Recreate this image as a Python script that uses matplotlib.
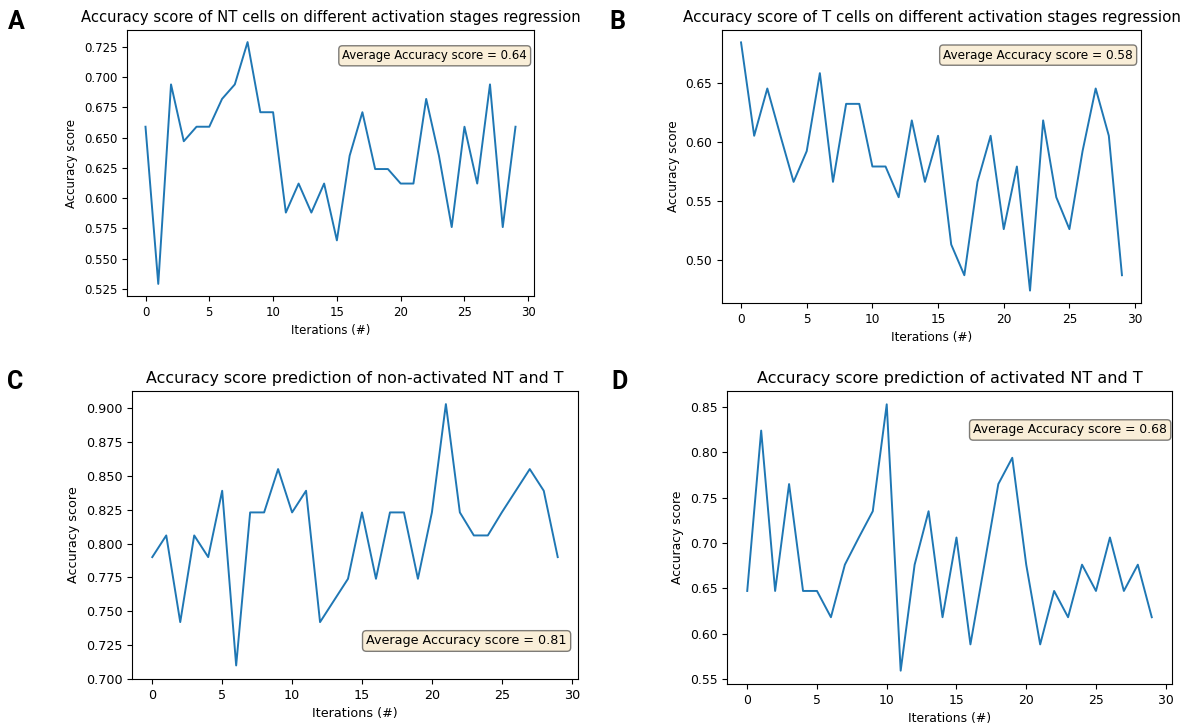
import matplotlib
matplotlib.use('Agg')
import numpy as np
import matplotlib.pyplot as plt
from matplotlib.ticker import MultipleLocator

# accuracy per iteration
acc_nt = [0.659, 0.529, 0.694, 0.647, 0.659, 0.659, 0.682, 0.694, 0.729, 0.671,
          0.671, 0.588, 0.612, 0.588, 0.612, 0.565, 0.635, 0.671, 0.624, 0.624,
          0.612, 0.612, 0.682, 0.635, 0.576, 0.659, 0.612, 0.694, 0.576, 0.659]
acc_t = [0.684, 0.605, 0.645, 0.605, 0.566, 0.592, 0.658, 0.566, 0.632, 0.632,
         0.579, 0.579, 0.553, 0.618, 0.566, 0.605, 0.513, 0.487, 0.566, 0.605,
         0.526, 0.579, 0.474, 0.618, 0.553, 0.526, 0.592, 0.645, 0.605, 0.487]
acc_nonact = [0.790, 0.806, 0.742, 0.806, 0.790, 0.839, 0.710, 0.823, 0.823, 0.855,
              0.823, 0.839, 0.742, 0.758, 0.774, 0.823, 0.774, 0.823, 0.823, 0.774,
              0.823, 0.903, 0.823, 0.806, 0.806, 0.823, 0.839, 0.855, 0.839, 0.790]
acc_act = [0.647, 0.824, 0.647, 0.765, 0.647, 0.647, 0.618, 0.676, 0.706, 0.735,
           0.853, 0.559, 0.676, 0.735, 0.618, 0.706, 0.588, 0.676, 0.765, 0.794,
           0.676, 0.588, 0.647, 0.618, 0.676, 0.647, 0.706, 0.647, 0.676, 0.618]

titles = ['Accuracy score of NT cells on different activation stages regression',
          'Accuracy score of T cells on different activation stages regression',
          'Accuracy score prediction of non-activated NT and T',
          'Accuracy score prediction of activated NT and T']
avg_labels = ['Average Accuracy score = 0.64', 'Average Accuracy score = 0.58',
              'Average Accuracy score = 0.81', 'Average Accuracy score = 0.68']
letters = ['A', 'B', 'C', 'D']

W, H = 1187, 726
# axes boxes in pixels: left, right, top, bottom
boxes = [(127, 534, 30, 296), (722, 1141, 30, 303),
         (132, 578, 391, 679), (727, 1172, 391, 684)]
fsizes = [8.5, 8.7, 9.2, 8.9]
tsizes = [10.6, 10.9, 11.4, 11.5]
ysteps = [0.025, 0.05, 0.025, 0.05]
txtpos = [(0.983, 0.903), (0.981, 0.908), (0.975, 0.132), (0.989, 0.867)]
letterpos = [(16, 22), (617, 22), (15, 382), (620, 382)]

fig = plt.figure(figsize=(W/100, H/100), dpi=100)
data = [acc_nt, acc_t, acc_nonact, acc_act]

for i in range(4):
    l, r, t, b = boxes[i]
    ax = fig.add_axes([l/W, 1-b/H, (r-l)/W, (b-t)/H])
    fs = fsizes[i]
    ax.plot(np.arange(len(data[i])), data[i], color='#1f77b4', linewidth=1.4)
    ax.set_title(titles[i], fontsize=tsizes[i])
    ax.set_xlabel('Iterations (#)', fontsize=fs)
    ax.set_ylabel('Accuracy score', fontsize=fs)
    ax.yaxis.set_major_locator(MultipleLocator(ysteps[i]))
    ax.xaxis.set_major_locator(MultipleLocator(5))
    ax.tick_params(labelsize=fs)
    if i == 2:
        ax.set_ylim(bottom=0.700)
    props = dict(boxstyle='round', facecolor='wheat', alpha=0.5)
    ax.text(txtpos[i][0], txtpos[i][1], avg_labels[i], transform=ax.transAxes,
            fontsize=fs, ha='right', va='center', bbox=props)
    fig.text(letterpos[i][0]/W, 1-letterpos[i][1]/H, letters[i], fontsize=18,
             family=['Roboto', 'DejaVu Sans'], fontweight='bold',
             ha='center', va='center')

fig.savefig('out.png', dpi=100)
plt.close(fig)
